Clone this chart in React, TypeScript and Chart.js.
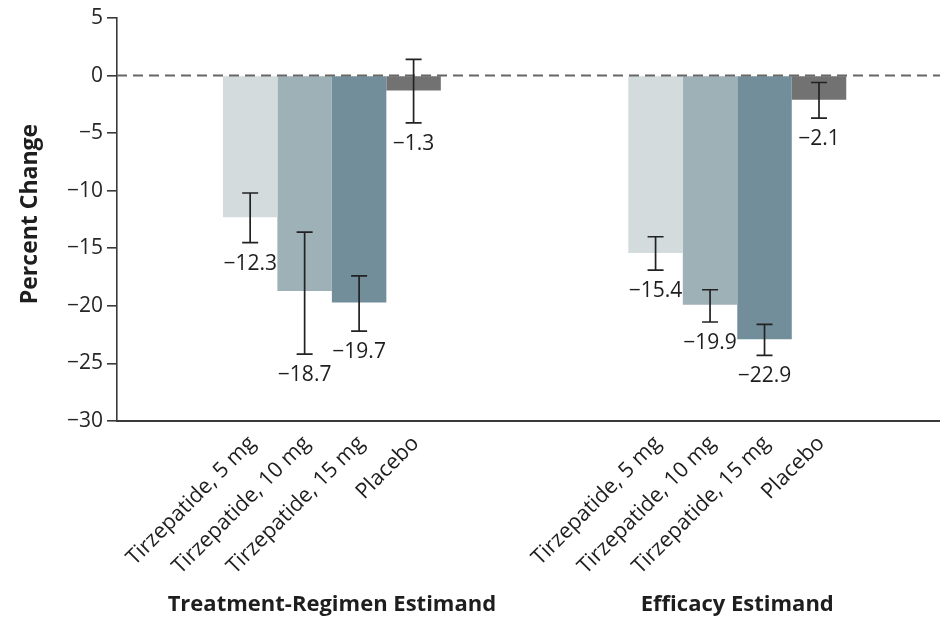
import React, { useEffect, useRef } from "react";
import { Chart, registerables } from "chart.js";

Chart.register(...registerables);

const groups = ["Treatment-Regimen Estimand", "Efficacy Estimand"];
const arms = ["Tirzepatide, 5 mg", "Tirzepatide, 10 mg", "Tirzepatide, 15 mg", "Placebo"];
const treatmentRegimen = [-12.3, -18.7, -19.7, -1.3];
const treatmentLow = [-14.5, -24.2, -22.2, -4.1];
const treatmentHigh = [-10.2, -13.6, -17.4, 1.4];
const efficacy = [-15.4, -19.9, -22.9, -2.1];
const efficacyLow = [-16.9, -21.4, -24.3, -3.7];
const efficacyHigh = [-14.0, -18.6, -21.6, -0.6];
const armColors = ["#d3dbdd", "#9eb1b7", "#728e9b", "#727272"];
const yMin = -30;
const yMax = 5;
const yStep = 5;
const yTitle = "Percent Change";

const FONT = "'Open Sans', 'Noto Sans', sans-serif";
const fmt = (v: number) => String(v).replace("-", "\u2212");

const annotate = {
  id: "annotate",
  afterDatasetsDraw(chart: any) {
    const { ctx, chartArea, scales } = chart;
    const y = scales.y;
    ctx.save();
    // zero reference line
    ctx.strokeStyle = "#666";
    ctx.lineWidth = 2;
    ctx.setLineDash([10, 6]);
    ctx.beginPath();
    const y0 = y.getPixelForValue(0);
    ctx.moveTo(chartArea.left, y0);
    ctx.lineTo(chartArea.right, y0);
    ctx.stroke();
    ctx.setLineDash([]);

    const lows = [treatmentLow, efficacyLow];
    const highs = [treatmentHigh, efficacyHigh];
    const values = [treatmentRegimen, efficacy];
    const groupX: number[][] = [[], []];
    arms.forEach((arm, i) => {
      const meta = chart.getDatasetMeta(i);
      meta.data.forEach((bar: any, g: number) => {
        const x = bar.x;
        groupX[g].push(x);
        const yl = y.getPixelForValue(lows[g][i]);
        const yh = y.getPixelForValue(highs[g][i]);
        ctx.strokeStyle = "#222";
        ctx.lineWidth = 1.7;
        ctx.beginPath();
        ctx.moveTo(x, yl);
        ctx.lineTo(x, yh);
        ctx.moveTo(x - 8, yl);
        ctx.lineTo(x + 8, yl);
        ctx.moveTo(x - 8, yh);
        ctx.lineTo(x + 8, yh);
        ctx.stroke();
        // value label
        ctx.fillStyle = "#1e1e1e";
        ctx.font = `21px ${FONT}`;
        ctx.textAlign = "center";
        ctx.textBaseline = "middle";
        ctx.fillText(fmt(values[g][i]), x, yl + 21);
        // rotated arm label
        ctx.save();
        ctx.translate(x + 2, chartArea.bottom + 19);
        ctx.rotate(-Math.PI / 4);
        ctx.textAlign = "right";
        ctx.textBaseline = "middle";
        ctx.font = `21.5px ${FONT}`;
        ctx.fillText(arm, 0, 0);
        ctx.restore();
      });
    });
    // group labels
    ctx.font = `bold 22px ${FONT}`;
    ctx.fillStyle = "#1e1e1e";
    ctx.textAlign = "center";
    ctx.textBaseline = "middle";
    groups.forEach((gname, g) => {
      const xs = groupX[g];
      const cx = (Math.min(...xs) + Math.max(...xs)) / 2;
      ctx.fillText(gname, cx, 605);
    });
    // y title
    ctx.save();
    ctx.translate(30, 214);
    ctx.rotate(-Math.PI / 2);
    ctx.font = `bold 23px ${FONT}`;
    ctx.fillText(yTitle, 0, 0);
    ctx.restore();
    ctx.restore();
  },
};

export default function App() {
  const ref = useRef<HTMLCanvasElement>(null);
  useEffect(() => {
    if (!ref.current) return;
    const chart = new Chart(ref.current, {
      type: "bar",
      data: {
        datasets: arms.map((arm, i) => ({
          label: arm,
          data: [
            { x: 0, y: treatmentRegimen[i] },
            { x: 1, y: efficacy[i] },
          ],
          backgroundColor: armColors[i],
          borderWidth: 0,
          barPercentage: 1,
          categoryPercentage: 0.5375,
        })),
      },
      options: {
        animation: false,
        responsive: true,
        maintainAspectRatio: false,
        layout: { padding: { top: 18, left: 0, right: 0, bottom: 0 } },
        plugins: { legend: { display: false }, tooltip: { enabled: false } },
        scales: {
          x: {
            type: "linear",
            min: -0.53,
            max: 1.5,
            grid: { display: false },
            border: { display: true, color: "#3a3a3a", width: 2 },
            ticks: { display: false },
            afterBuildTicks: (s: any) => {
              s.ticks = [];
            },
            afterFit: (s: any) => {
              s.height = 202;
            },
          },
          y: {
            min: yMin,
            max: yMax,
            grid: {
              drawOnChartArea: false,
              drawTicks: true,
              tickLength: 10,
              color: "#3a3a3a",
              lineWidth: 1.6,
            },
            border: { display: true, color: "#3a3a3a", width: 1.6 },
            ticks: {
              stepSize: yStep,
              padding: 4,
              color: "#262626",
              font: { family: FONT, size: 21 },
              callback: (v: any) => fmt(Number(v)),
            },
            afterFit: (s: any) => {
              s.width = 117;
            },
          },
        },
      },
      plugins: [annotate],
    });
    return () => chart.destroy();
  }, []);
  return (
    <div style={{ position: "absolute", left: 0, top: 0, width: 940, height: 623, background: "#fff" }}>
      <canvas ref={ref} />
    </div>
  );
}
